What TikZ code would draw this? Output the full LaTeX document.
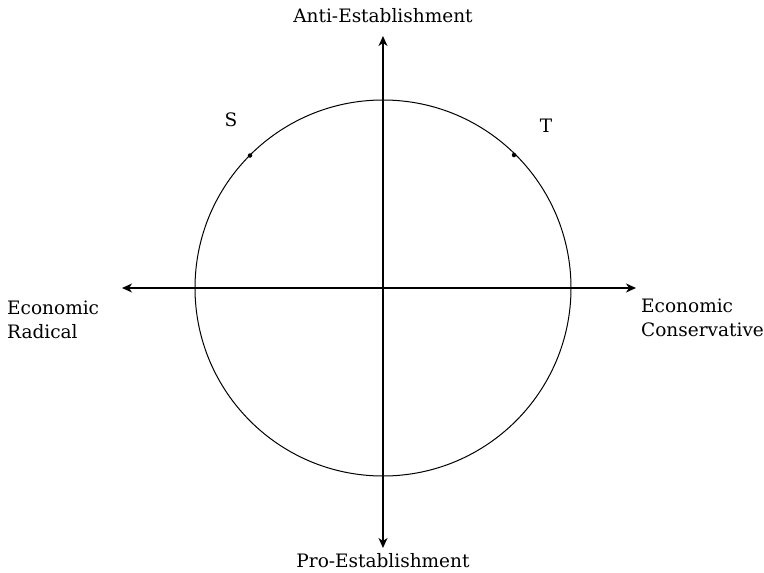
\documentclass[tikz,border=0pt]{standalone}
\usepackage{fontspec}
\setmainfont{DejaVu Serif}
\usetikzlibrary{arrows.meta}
\begin{document}
\begin{tikzpicture}[x=1pt,y=-1pt,
  axis/.style={line width=1.3pt,{Stealth[length=10pt,width=9pt,inset=3pt]}-{Stealth[length=10pt,width=9pt,inset=3pt]}},
  lbl/.style={font=\fontsize{18.5}{24}\selectfont,inner sep=0pt},
  pt/.style={circle,fill=black,inner sep=0pt,minimum size=4.5pt}]
\useasboundingbox (0,0) rectangle (764,573);
\coordinate (O) at (383,288);
\draw[line width=1pt] (O) circle[radius=188];
\coordinate (L) at (122,288);
\coordinate (R) at (636,288);
\coordinate (U) at (383,36);
\coordinate (D) at (383,548);
\draw[axis] (L) -- (R);
\draw[axis] (U) -- (D);
\node[pt] (s) at (250,155.5) {};
\node[pt] (t) at (514,155) {};
\node[lbl] (sl) at (231,120) {S};
\node[lbl] (tl) at (546,126) {T};
\node[lbl] (anti) at (383,16) {Anti-Establishment};
\node[lbl] (pro) at (383,561) {Pro-Establishment};
\node[lbl,anchor=west,align=left] (rad) at (7,320) {Economic\\Radical};
\node[lbl,anchor=west,align=left] (con) at (641,318) {Economic\\Conservative};
\end{tikzpicture}
\end{document}
